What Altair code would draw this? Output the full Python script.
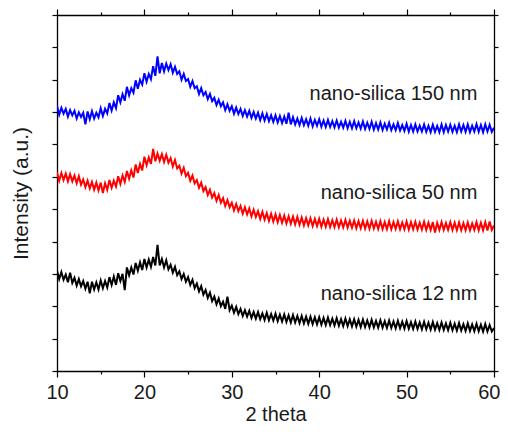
import altair as alt
import numpy as np
import pandas as pd

# 2-theta grid (degrees), 0.25 deg steps from 10 to 60
theta = [round(10 + 0.25 * i, 2) for i in range(201)]

# Intensities (arbitrary units, curves stacked)
silica_150 = [
    8.20, 7.92, 8.13, 7.95, 8.10, 7.86, 8.06, 7.90, 8.04, 7.80, 7.99, 7.85,
    7.98, 7.62, 8.02, 7.78, 8.03, 7.80, 7.98, 7.84, 8.12, 7.88, 8.10, 7.96,
    8.28, 8.05, 8.30, 8.12, 8.52, 8.30, 8.55, 8.35, 8.78, 8.52, 8.74, 8.60,
    8.98, 8.72, 9.00, 8.85, 9.20, 8.94, 9.18, 9.02, 9.42, 9.12, 9.72, 9.20,
    9.52, 9.26, 9.50, 9.30, 9.48, 9.22, 9.40, 9.18, 9.26, 9.00, 9.18, 8.96,
    9.02, 8.78, 8.96, 8.74, 8.80, 8.56, 8.74, 8.52, 8.62, 8.40, 8.56, 8.34,
    8.44, 8.22, 8.38, 8.18, 8.30, 8.06, 8.24, 8.04, 8.18, 7.95, 8.14, 7.94,
    8.10, 7.88, 8.06, 7.86, 8.04, 7.82, 8.00, 7.80, 7.98, 7.75, 7.96, 7.74,
    7.94, 7.72, 7.90, 7.70, 7.90, 7.68, 7.88, 7.66, 7.86, 7.64, 7.98, 7.62,
    7.84, 7.62, 7.80, 7.60, 7.82, 7.60, 7.78, 7.58, 7.80, 7.56, 7.76, 7.58,
    7.78, 7.55, 7.74, 7.54, 7.76, 7.54, 7.72, 7.53, 7.74, 7.52, 7.70, 7.52,
    7.73, 7.50, 7.70, 7.50, 7.72, 7.50, 7.68, 7.49, 7.71, 7.48, 7.67, 7.48,
    7.70, 7.46, 7.66, 7.46, 7.68, 7.45, 7.64, 7.46, 7.67, 7.44, 7.62, 7.44,
    7.66, 7.43, 7.60, 7.42, 7.64, 7.40, 7.60, 7.40, 7.62, 7.40, 7.58, 7.40,
    7.62, 7.39, 7.58, 7.38, 7.61, 7.39, 7.57, 7.38, 7.62, 7.38, 7.60, 7.40,
    7.61, 7.39, 7.58, 7.38, 7.62, 7.40, 7.60, 7.39, 7.62, 7.38, 7.58, 7.40,
    7.63, 7.39, 7.60, 7.38, 7.62, 7.40, 7.61, 7.39, 7.52,
]

silica_50 = [
    6.14, 5.88, 6.12, 5.90, 6.10, 5.86, 6.08, 5.86, 6.04, 5.80, 6.02, 5.76,
    5.92, 5.68, 5.88, 5.64, 5.84, 5.60, 5.82, 5.58, 5.82, 5.50, 5.80, 5.60,
    5.90, 5.66, 5.88, 5.70, 6.02, 5.78, 6.04, 5.84, 6.18, 5.94, 6.20, 5.98,
    6.38, 6.12, 6.40, 6.20, 6.62, 6.36, 6.60, 6.40, 6.86, 6.48, 6.72, 6.50,
    6.70, 6.46, 6.68, 6.44, 6.58, 6.32, 6.52, 6.26, 6.34, 6.10, 6.28, 6.02,
    6.12, 5.88, 6.04, 5.80, 5.90, 5.66, 5.82, 5.56, 5.68, 5.44, 5.60, 5.36,
    5.50, 5.26, 5.44, 5.20, 5.34, 5.10, 5.28, 5.06, 5.20, 4.96, 5.16, 4.94,
    5.10, 4.86, 5.06, 4.84, 5.02, 4.78, 4.98, 4.76, 4.94, 4.70, 4.92, 4.68,
    4.88, 4.64, 4.86, 4.62, 4.84, 4.60, 4.82, 4.58, 4.80, 4.56, 4.78, 4.55,
    4.77, 4.53, 4.76, 4.52, 4.74, 4.50, 4.72, 4.50, 4.72, 4.48, 4.70, 4.48,
    4.70, 4.46, 4.68, 4.46, 4.69, 4.45, 4.66, 4.45, 4.68, 4.44, 4.65, 4.44,
    4.67, 4.43, 4.64, 4.43, 4.65, 4.41, 4.63, 4.41, 4.64, 4.40, 4.62, 4.40,
    4.64, 4.40, 4.61, 4.39, 4.63, 4.39, 4.60, 4.38, 4.63, 4.38, 4.60, 4.39,
    4.62, 4.38, 4.59, 4.38, 4.62, 4.37, 4.60, 4.38, 4.61, 4.37, 4.58, 4.37,
    4.61, 4.36, 4.58, 4.36, 4.60, 4.28, 4.58, 4.36, 4.60, 4.36, 4.57, 4.36,
    4.60, 4.36, 4.58, 4.35, 4.59, 4.35, 4.57, 4.35, 4.59, 4.35, 4.56, 4.36,
    4.60, 4.35, 4.58, 4.35, 4.60, 4.34, 4.62, 4.36, 4.50,
]

silica_12 = [
    3.10, 2.84, 3.06, 2.82, 2.98, 2.74, 3.04, 2.72, 2.88, 2.64, 2.84, 2.62,
    2.78, 2.54, 2.76, 2.40, 2.76, 2.52, 2.74, 2.52, 2.80, 2.56, 2.78, 2.58,
    2.90, 2.66, 2.92, 2.66, 3.02, 2.78, 3.00, 2.50, 3.20, 2.96, 3.20, 2.98,
    3.34, 3.10, 3.36, 3.12, 3.46, 3.20, 3.44, 3.22, 3.52, 3.26, 3.90, 3.26,
    3.46, 3.20, 3.42, 3.14, 3.28, 3.04, 3.22, 2.96, 3.08, 2.84, 3.00, 2.76,
    2.90, 2.66, 2.82, 2.56, 2.70, 2.46, 2.62, 2.36, 2.50, 2.26, 2.42, 2.16,
    2.30, 2.06, 2.24, 2.00, 2.14, 1.92, 2.30, 1.88, 2.02, 1.80, 1.98, 1.76,
    1.92, 1.70, 1.88, 1.68, 1.86, 1.64, 1.82, 1.62, 1.82, 1.60, 1.78, 1.58,
    1.80, 1.57, 1.76, 1.56, 1.77, 1.54, 1.74, 1.53, 1.75, 1.52, 1.72, 1.50,
    1.73, 1.50, 1.70, 1.48, 1.70, 1.47, 1.68, 1.46, 1.68, 1.45, 1.66, 1.44,
    1.66, 1.43, 1.64, 1.42, 1.65, 1.42, 1.62, 1.41, 1.63, 1.40, 1.60, 1.39,
    1.62, 1.39, 1.60, 1.38, 1.60, 1.37, 1.58, 1.36, 1.59, 1.36, 1.56, 1.35,
    1.58, 1.35, 1.55, 1.34, 1.57, 1.34, 1.54, 1.33, 1.56, 1.33, 1.53, 1.32,
    1.55, 1.32, 1.52, 1.31, 1.54, 1.31, 1.51, 1.30, 1.53, 1.30, 1.50, 1.29,
    1.52, 1.29, 1.49, 1.28, 1.51, 1.28, 1.48, 1.27, 1.50, 1.27, 1.47, 1.26,
    1.49, 1.26, 1.46, 1.25, 1.48, 1.25, 1.45, 1.24, 1.47, 1.24, 1.44, 1.23,
    1.46, 1.23, 1.43, 1.22, 1.45, 1.22, 1.42, 1.22, 1.33,
]

series_names = ["nano-silica 150 nm", "nano-silica 50 nm", "nano-silica 12 nm"]
series_colors = ["#0000ff", "#ff0000", "#000000"]
label_theta = [58.1, 58.1, 58.1]
label_intensity = [8.55, 5.49, 2.38]

x_ticks = [10, 15, 20, 25, 30, 35, 40, 45, 50, 55, 60]
y_ticks = list(range(0, 12))

frames = []
for name, vals in zip(series_names, [silica_150, silica_50, silica_12]):
    frames.append(pd.DataFrame({"theta": theta, "intensity": vals, "series": name}))
df = pd.concat(frames, ignore_index=True)

labels_df = pd.DataFrame({"theta": label_theta, "intensity": label_intensity,
                          "label": series_names})

FONT = "Liberation Sans"
x_scale = alt.Scale(domain=[10, 60], nice=False)
y_scale = alt.Scale(domain=[0, 11], nice=False)
minor_tick = {"condition": {"test": "datum.value % 10 === 0", "value": 6}, "value": 3}
last_align = {"condition": {"test": "datum.value === 60", "value": "right"}, "value": "center"}
last_offset = {"condition": {"test": "datum.value === 60", "value": 6}, "value": 0}

lines = alt.Chart(df).mark_line(strokeWidth=2.0, clip=True).encode(
    x=alt.X("theta:Q", scale=x_scale,
            axis=alt.Axis(orient="bottom", values=x_ticks, title="2 theta",
                          labelExpr="datum.value % 10 === 0 ? datum.label : ''",
                          tickSize=minor_tick, labelFlush=False, labelOverlap=False,
                          labelAlign=last_align, labelOffset=last_offset,
                          labelFontSize=20, titleFontSize=20, labelPadding=5,
                          titlePadding=2, titleFontWeight="normal")),
    y=alt.Y("intensity:Q", scale=y_scale,
            axis=alt.Axis(orient="left", values=y_ticks, labels=False, tickSize=5,
                          title="Intensity (a.u.)", titleFontSize=21,
                          titlePadding=20, titleFontWeight="normal")),
    color=alt.Color("series:N", scale=alt.Scale(domain=series_names, range=series_colors),
                    legend=None),
    detail="series:N",
    order="theta:Q",
)

texts = alt.Chart(labels_df).mark_text(
    align="right", baseline="middle", fontSize=20, font=FONT, color="#1a1a1a"
).encode(
    x=alt.X("theta:Q", scale=x_scale,
            axis=alt.Axis(orient="top", values=x_ticks, labels=False, title=None,
                          tickSize=minor_tick)),
    y=alt.Y("intensity:Q", scale=y_scale,
            axis=alt.Axis(orient="right", values=y_ticks, labels=False, title=None,
                          tickSize=4)),
    text="label:N",
)

chart = alt.layer(lines, texts).resolve_axis(
    x="independent", y="independent"
).properties(
    width=437, height=356,
    autosize=alt.AutoSizeParams(type="none"),
    padding={"left": 49, "top": 7, "right": 6, "bottom": 57},
).configure_view(stroke=None).configure_axis(
    grid=False, domainColor="#000000", domainWidth=1.3, tickColor="#000000",
    tickWidth=1.2, labelColor="#1a1a1a", titleColor="#1a1a1a",
    labelFont=FONT, titleFont=FONT,
)

chart.save("out.html", embed_options={"renderer": "svg", "actions": False})
